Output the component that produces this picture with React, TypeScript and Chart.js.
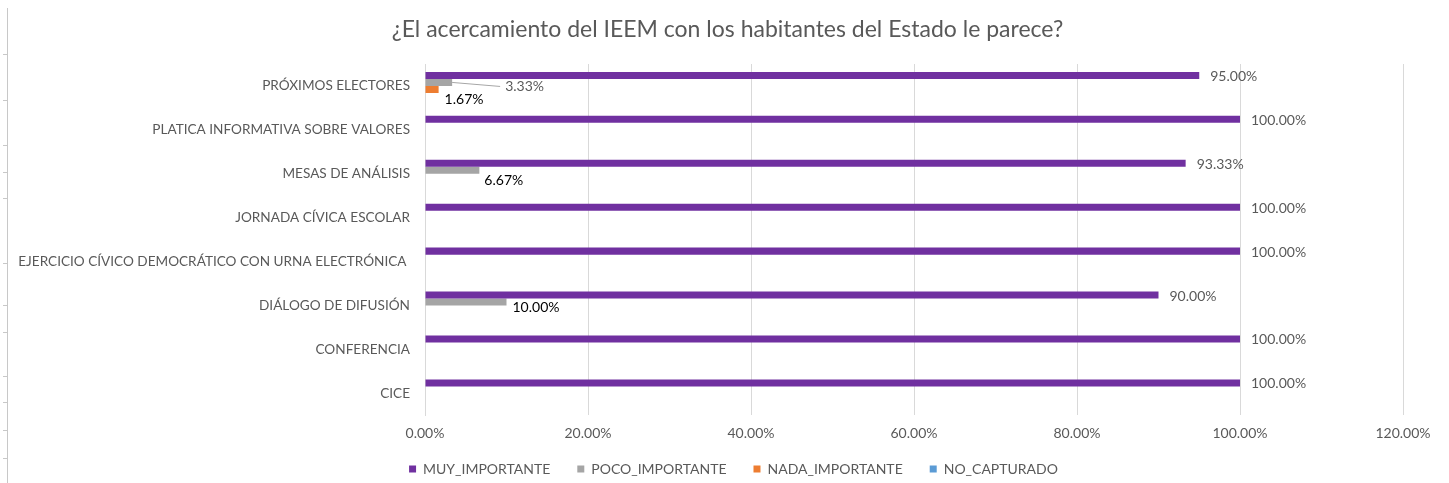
import React, { useEffect, useRef } from "react";
import { Chart, registerables } from "chart.js";

Chart.register(...registerables);

const categories = [
  "PRÓXIMOS ELECTORES",
  "PLATICA INFORMATIVA SOBRE VALORES",
  "MESAS DE ANÁLISIS",
  "JORNADA CÍVICA ESCOLAR",
  "EJERCICIO CÍVICO DEMOCRÁTICO CON URNA ELECTRÓNICA ",
  "DIÁLOGO DE DIFUSIÓN",
  "CONFERENCIA",
  "CICE",
];

const seriesNames = ["MUY_IMPORTANTE", "POCO_IMPORTANTE", "NADA_IMPORTANTE", "NO_CAPTURADO"];
const muyImportante = [95.0, 100.0, 93.33, 100.0, 100.0, 90.0, 100.0, 100.0];
const pocoImportante = [3.33, null, 6.67, null, null, 10.0, null, null];
const nadaImportante = [1.67, null, null, null, null, null, null, null];
const noCapturado = [null, null, null, null, null, null, null, null];
const xTicks = [0, 20, 40, 60, 80, 100, 120];

const colors = ["#7030A0", "#A5A5A5", "#ED7D31", "#5B9BD5"];
const FONT = "Lato, 'Open Sans', sans-serif";
const TEXT = "#595959";

// label placement (style only, relative to the bar end)
const labelStyle: Record<string, { dx: number; dy: number; color: string; leader?: boolean }> = {
  "0": { dx: 11, dy: 1, color: TEXT },
  "1": { dx: 6, dy: 5, color: "#000000" },
  "2": { dx: 6, dy: 10, color: "#000000" },
  "3": { dx: 6, dy: 8, color: "#000000" },
  "1-0": { dx: 53, dy: 4, color: TEXT, leader: true },
  "1-2": { dx: 5, dy: 10, color: "#000000" },
};

const valueLabels = {
  id: "valueLabels",
  afterDatasetsDraw(chart: any) {
    const ctx = chart.ctx;
    ctx.save();
    ctx.font = `14px ${FONT}`;
    ctx.textAlign = "left";
    ctx.textBaseline = "middle";
    chart.data.datasets.forEach((ds: any, di: number) => {
      const meta = chart.getDatasetMeta(di);
      meta.data.forEach((bar: any, i: number) => {
        const v = ds.data[i];
        if (v === null || v === undefined) return;
        const st = labelStyle[`${di}-${i}`] || labelStyle[`${di}`];
        const tx = bar.x + st.dx;
        const ty = bar.y + st.dy;
        if (st.leader) {
          ctx.strokeStyle = "#A6A6A6";
          ctx.lineWidth = 1;
          ctx.beginPath();
          ctx.moveTo(bar.x, bar.y);
          ctx.lineTo(tx - 5, ty);
          ctx.stroke();
        }
        ctx.fillStyle = st.color;
        ctx.fillText(v.toFixed(2) + "%", tx, ty);
      });
    });
    ctx.restore();
  },
};

const LEGEND_SHIFT_Y = -9.4;
const LEGEND_SHIFT_X = 28;
const TITLE_SHIFT_X = 22;
const boxShift = {
  id: "boxShift",
  afterLayout(chart: any) {
    const lg = chart.legend;
    if (lg) {
      lg.top += LEGEND_SHIFT_Y;
      lg.bottom += LEGEND_SHIFT_Y;
      lg.left += LEGEND_SHIFT_X;
      lg.right += LEGEND_SHIFT_X;
    }
    const tt = chart.titleBlock;
    if (tt) {
      tt.left += TITLE_SHIFT_X;
      tt.right += TITLE_SHIFT_X;
    }
  },
};

export default function App() {
  const ref = useRef<HTMLCanvasElement | null>(null);

  useEffect(() => {
    const prevMargin = document.body.style.marginBottom;
    document.body.style.marginBottom = "0px";
    if (!ref.current) return;
    const data = [muyImportante, pocoImportante, nadaImportante, noCapturado];
    const chart = new Chart(ref.current, {
      type: "bar",
      data: {
        labels: categories,
        datasets: seriesNames.map((name, k) => ({
          label: name,
          data: data[k] as any,
          backgroundColor: colors[k],
          borderWidth: 0,
          categoryPercentage: 0.64,
          barPercentage: 1,
        })),
      },
      options: {
        indexAxis: "y",
        animation: false,
        responsive: false,
        maintainAspectRatio: false,
        layout: { padding: { left: 0, right: 38, top: 0, bottom: -12.4 } },
        plugins: {
          title: {
            display: true,
            text: "¿El acercamiento del IEEM con los habitantes del Estado le parece?",
            color: TEXT,
            font: { family: FONT, size: 23, weight: "normal" },
            padding: { top: 8, bottom: 20.4 },
          },
          legend: {
            position: "bottom",
            labels: {
              boxWidth: 7,
              boxHeight: 7,
              padding: 27,
              color: TEXT,
              font: { family: FONT, size: 14 },
            },
          },
          tooltip: { enabled: false },
        },
        scales: {
          x: {
            min: 0,
            max: 120,
            afterBuildTicks: (scale: any) => {
              scale.ticks = xTicks.map((v) => ({ value: v }));
            },
            ticks: {
              color: TEXT,
              font: { family: FONT, size: 14 },
              padding: 2.6,
              callback: (v: any) => Number(v).toFixed(2) + "%",
            },
            grid: {
              color: "#D9D9D9",
              drawTicks: true,
              tickLength: 7,
              tickColor: "rgba(0,0,0,0)",
              lineWidth: 1,
            },
            border: { display: false },
          },
          y: {
            afterFit: (scale: any) => {
              scale.width = 417;
            },
            ticks: {
              color: TEXT,
              font: { family: FONT, size: 13.6 },
              padding: 15,
            },
            grid: { display: false, drawTicks: false },
            border: { display: true, color: "#D9D9D9", width: 1 },
          },
        },
      },
      plugins: [valueLabels, boxShift],
    });
    return () => {
      chart.destroy();
      document.body.style.marginBottom = prevMargin;
    };
  }, []);

  const sideTicks = [54, 100, 145, 172, 198, 263, 305, 332, 376, 402, 430, 458];

  return (
    <div style={{ position: "relative", width: 1433, height: 475 }}>
      <canvas ref={ref} width={1433} height={475} style={{ display: "block" }} />
      <div
        style={{
          position: "fixed",
          left: 7,
          top: 8,
          width: 1,
          height: 475,
          background: "#C8C8C8",
          pointerEvents: "none",
        }}
      />
      {sideTicks.map((y) => (
        <div
          key={y}
          style={{
            position: "fixed",
            left: 3,
            top: y,
            width: 4,
            height: 1,
            background: "#C8C8C8",
            pointerEvents: "none",
          }}
        />
      ))}
    </div>
  );
}
